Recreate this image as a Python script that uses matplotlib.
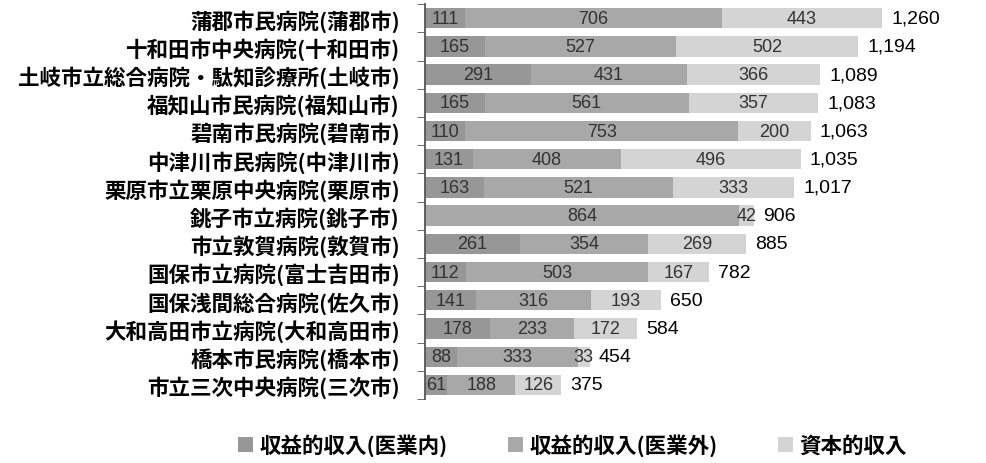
import matplotlib
matplotlib.use('Agg')
import matplotlib.pyplot as plt
import numpy as np

plt.rcParams['font.family'] = ['Noto Sans CJK JP', 'DejaVu Sans']

hospitals = ['蒲郡市民病院(蒲郡市)', '十和田市中央病院(十和田市)', '土岐市立総合病院・駄知診療所(土岐市)',
             '福知山市民病院(福知山市)', '碧南市民病院(碧南市)', '中津川市民病院(中津川市)',
             '栗原市立栗原中央病院(栗原市)', '銚子市立病院(銚子市)', '市立敦賀病院(敦賀市)',
             '国保市立病院(富士吉田市)', '国保浅間総合病院(佐久市)', '大和高田市立病院(大和高田市)',
             '橋本市民病院(橋本市)', '市立三次中央病院(三次市)']
iryo_nai = [111, 165, 291, 165, 110, 131, 163, 0, 261, 112, 141, 178, 88, 61]
iryo_gai = [706, 527, 431, 561, 753, 408, 521, 864, 354, 503, 316, 233, 333, 188]
shihon = [443, 502, 366, 357, 200, 496, 333, 42, 269, 167, 193, 172, 33, 126]
totals = [1260, 1194, 1089, 1083, 1063, 1035, 1017, 906, 885, 782, 650, 584, 454, 375]
series_names = ['収益的収入(医業内)', '収益的収入(医業外)', '資本的収入']
colors = ['#979797', '#a8a8a8', '#d4d4d4']

fig = plt.figure(figsize=(9.87, 4.64), dpi=100)
ax = fig.add_axes([0.4306, 0.138, 0.5694, 0.851])

y = np.arange(len(hospitals))
left = np.zeros(len(hospitals))
for vals, name, c in zip([iryo_nai, iryo_gai, shihon], series_names, colors):
    vals = np.array(vals)
    ax.barh(y, vals, left=left, height=0.72, color=c, label=name)
    for yi, l, v in zip(y, left, vals):
        if v > 0:
            ax.text(l + v / 2, yi, str(v), ha='center', va='center', fontsize=13,
                    color='#333333', family=['Liberation Sans', 'DejaVu Sans'])
    left = left + vals

for yi, l, t in zip(y, left, totals):
    ax.text(l + 25, yi, f'{t:,}', ha='left', va='center', fontsize=14,
            color='black', family=['Liberation Sans', 'DejaVu Sans'])

ax.set_xlim(0, 1548)
ax.set_ylim(len(hospitals) - 0.5, -0.5)
ax.set_yticks(y)
ax.set_yticklabels(hospitals, fontsize=15.5, fontweight='bold')
ax.set_yticks(np.arange(-0.5, len(hospitals)), minor=True)
ax.tick_params(axis='y', which='major', length=0, pad=18)
ax.tick_params(axis='y', which='minor', length=6, color='#555555', direction='out')
ax.set_xticks([])
for s in ['top', 'right', 'bottom']:
    ax.spines[s].set_visible(False)
ax.spines['left'].set_color('#555555')
ax.spines['left'].set_linewidth(1.3)

handles, labels = ax.get_legend_handles_labels()
fig.legend(handles, labels, loc='center', bbox_to_anchor=(0.58, 0.04), ncol=3,
           frameon=False, handlelength=0.7, handleheight=0.7,
           columnspacing=2.8, handletextpad=0.3, prop={'weight': 'bold', 'size': 15.5})

fig.savefig('out.png', dpi=100)
